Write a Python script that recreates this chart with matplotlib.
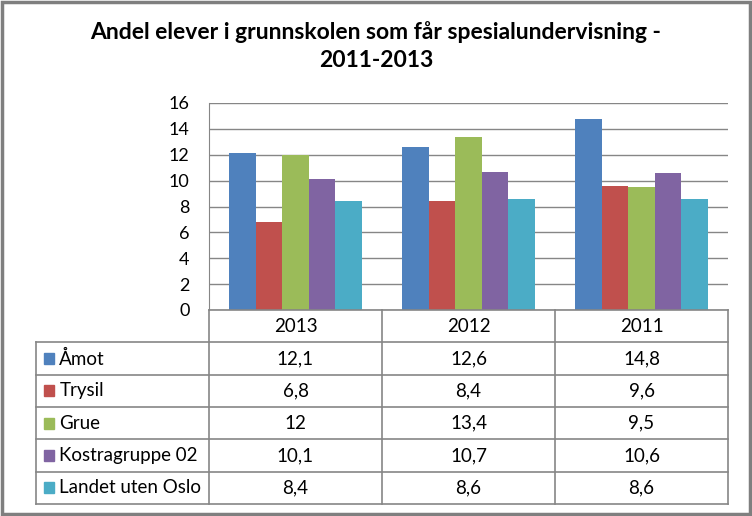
import matplotlib
matplotlib.use('Agg')
import matplotlib.pyplot as plt
import numpy as np
from matplotlib.patches import Rectangle

plt.rcParams['font.family'] = ['Lato', 'DejaVu Sans']

title = 'Andel elever i grunnskolen som får spesialundervisning -\n2011-2013'
years = ['2013', '2012', '2011']
series = ['Åmot', 'Trysil', 'Grue', 'Kostragruppe 02', 'Landet uten Oslo']
amot = [12.1, 12.6, 14.8]
trysil = [6.8, 8.4, 9.6]
grue = [12, 13.4, 9.5]
kostra = [10.1, 10.7, 10.6]
landet = [8.4, 8.6, 8.6]
values = [amot, trysil, grue, kostra, landet]
colors = ['#4F81BD', '#C0504D', '#9BBB59', '#8064A2', '#4BACC6']
yticks = [0, 2, 4, 6, 8, 10, 12, 14, 16]

W, H = 752, 516
fig = plt.figure(figsize=(W / 100, H / 100), dpi=100)
grid_c = '#868686'

def box(x0, y0, x1, y1):
    return [x0 / W, 1 - y1 / H, (x1 - x0) / W, (y1 - y0) / H]

# bar area
ax = fig.add_axes(box(209, 103, 728, 310))
x = np.arange(len(years))
bw = 1 / 6.5
for i, (vals, c) in enumerate(zip(values, colors)):
    ax.bar(x + (i - 2) * bw, vals, bw, color=c, zorder=3)
ax.set_xlim(-0.5, len(years) - 0.5)
ax.set_ylim(0, 16)
ax.set_yticks(yticks)
ax.set_yticklabels([str(v) for v in yticks], fontsize=13)
ax.tick_params(axis='y', length=0, pad=14)
ax.set_xticks([])
ax.grid(axis='y', color=grid_c, lw=1, zorder=0)
for s in ['top', 'right', 'bottom']:
    ax.spines[s].set_visible(False)
ax.spines['left'].set_color(grid_c)

# data table
tx = fig.add_axes(box(36, 310, 728, 504))
tx.set_xlim(-1.5, len(years) - 0.5)
tx.set_ylim(len(series) + 1, 0)
tx.axis('off')
lk = dict(color=grid_c, lw=1.2, clip_on=False)
nrows = len(series) + 1
tx.plot([-0.5, -0.5], [0, nrows], **lk)
tx.plot([-1.5, -1.5], [1, nrows], **lk)
for j in range(len(years)):
    tx.plot([j + 0.5, j + 0.5], [0, nrows], **lk)
tx.plot([-0.5, len(years) - 0.5], [0, 0], **lk)
for r in range(1, nrows + 1):
    tx.plot([-1.5, len(years) - 0.5], [r, r], **lk)
for j, yr in enumerate(years):
    tx.text(j, 0.5, yr, ha='center', va='center', fontsize=13.5)
for i, (name, vals, c) in enumerate(zip(series, values, colors)):
    r = i + 1.5
    tx.add_patch(Rectangle((-1.455, r - 0.17), 0.06, 0.34, color=c, clip_on=False))
    tx.text(-1.365, r, name, ha='left', va='center', fontsize=13.5)
    for j, v in enumerate(vals):
        tx.text(j, r, f'{v:g}'.replace('.', ','), ha='center', va='center', fontsize=13.5)

fig.text(0.5, 1 - 46 / H, title, ha='center', va='center', fontsize=16.5,
         fontweight='bold', linespacing=1.4)

fig.patches.append(Rectangle((0.002, 0.003), 0.995, 0.994, transform=fig.transFigure,
                             fill=False, ec='#7F7F7F', lw=2.5))

fig.savefig('out.png', dpi=100)
